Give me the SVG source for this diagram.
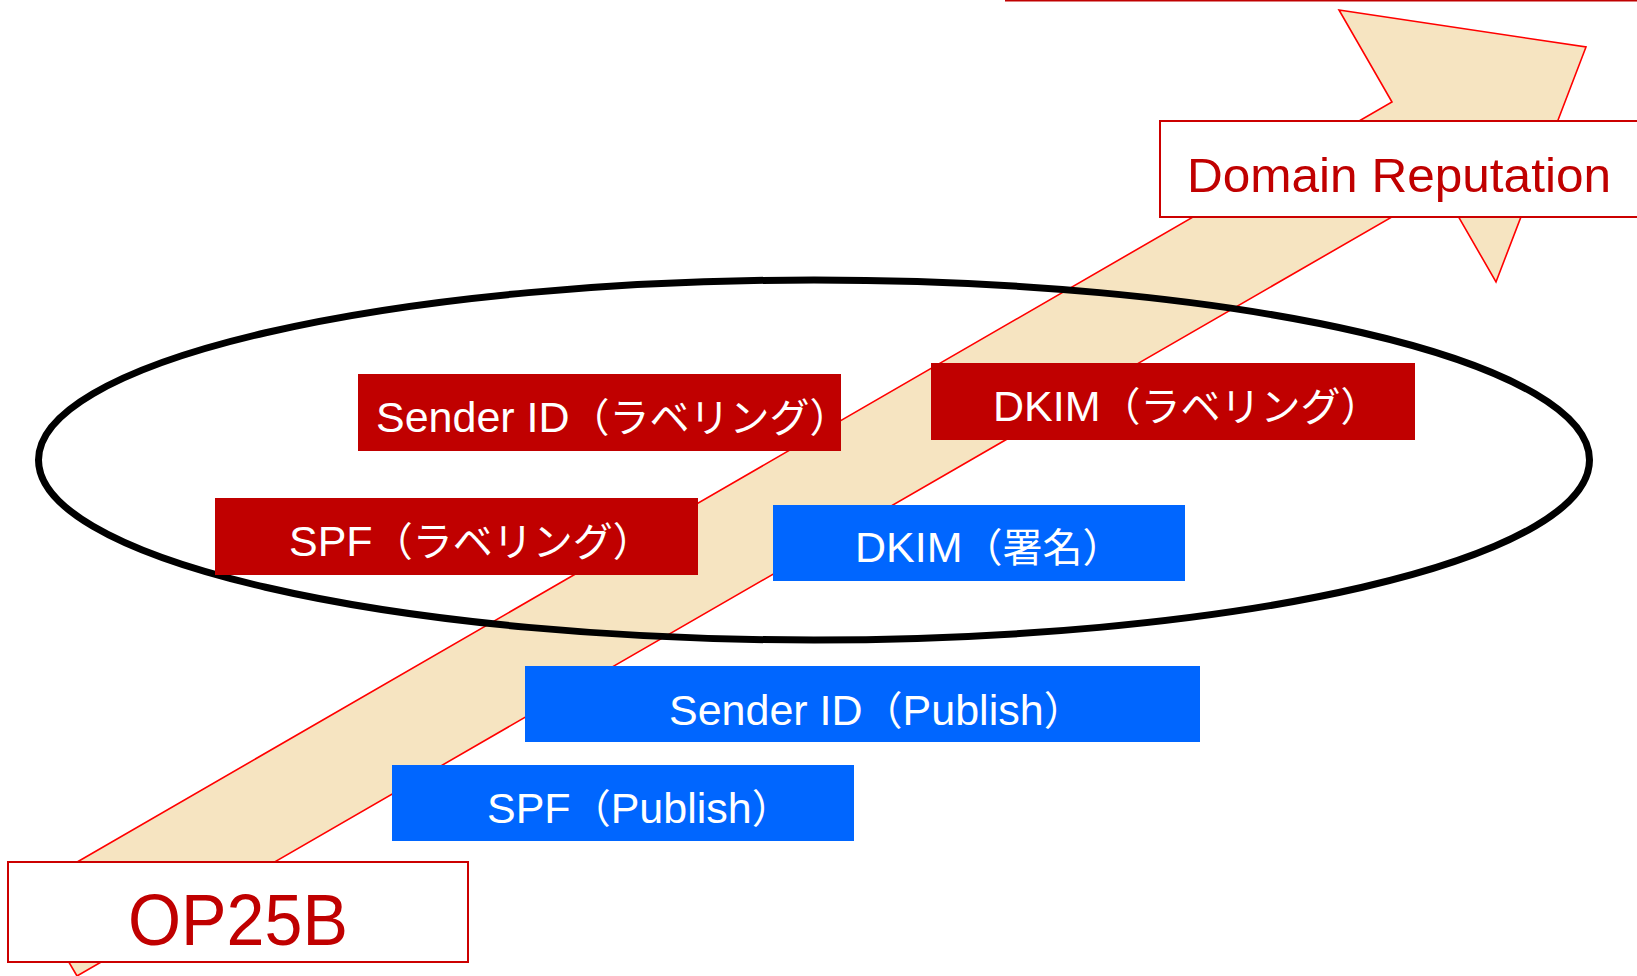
<svg xmlns="http://www.w3.org/2000/svg" width="1637" height="976" viewBox="0 0 1637 976">
  <style>
    .lat { font-family: "Liberation Sans", Arial, "Noto Sans CJK JP", sans-serif; font-size: 43px; fill: #ffffff; }
    .cjk { font-family: "Noto Sans CJK JP", "Noto Sans CJK SC", sans-serif; font-size: 40px; }
    .red { fill: #C00000; }
    .blue { fill: #0066FF; }
    .frame { fill: #ffffff; stroke: #CC0000; stroke-width: 2; }
    .title { font-family: "Liberation Sans", Arial, sans-serif; fill: #C00000; }
  </style>

  <!-- edge of a frame above the visible area -->
  <line x1="1005" y1="0.6" x2="1637" y2="0.6" stroke="#C00000" stroke-width="1.6"/>

  <!-- rising block arrow from OP25B to Domain Reputation -->
  <g id="arrow">
    <polygon points="27,891 1392,102 1339,10 1586,47 1496,282 1442,188 77,976"
             fill="#F6E4C1" stroke="#FF0000" stroke-width="1.6" stroke-linejoin="miter"/>
  </g>

  <!-- grouping ellipse -->
  <g id="scope">
    <ellipse cx="814" cy="460" rx="775.5" ry="180" fill="none" stroke="#000000" stroke-width="7"/>
  </g>

  <g id="sender-id-labeling">
    <rect class="red" x="358" y="374" width="483" height="77"/>
    <text class="lat" x="376" y="432">Sender ID<tspan class="cjk">（ラベリング）</tspan></text>
  </g>

  <g id="dkim-labeling">
    <rect class="red" x="931" y="363" width="484" height="77"/>
    <text class="lat" x="993" y="421">DKIM<tspan class="cjk">（ラベリング）</tspan></text>
  </g>

  <g id="spf-labeling">
    <rect class="red" x="215" y="498" width="483" height="77"/>
    <text class="lat" x="289" y="556">SPF<tspan class="cjk">（ラベリング）</tspan></text>
  </g>

  <g id="dkim-signature">
    <rect class="blue" x="773" y="505" width="412" height="76"/>
    <text class="lat" x="855" y="562">DKIM<tspan class="cjk">（署名）</tspan></text>
  </g>

  <g id="sender-id-publish">
    <rect class="blue" x="525" y="666" width="675" height="76"/>
    <text class="lat" x="669" y="725">Sender ID<tspan class="cjk">（</tspan>Publish<tspan class="cjk">）</tspan></text>
  </g>

  <g id="spf-publish">
    <rect class="blue" x="392" y="765" width="462" height="76"/>
    <text class="lat" x="487" y="823">SPF<tspan class="cjk">（</tspan>Publish<tspan class="cjk">）</tspan></text>
  </g>

  <g id="domain-reputation">
    <rect class="frame" x="1160" y="121" width="490" height="96"/>
    <text class="title" x="1187" y="192" font-size="49" textLength="424" lengthAdjust="spacingAndGlyphs">Domain Reputation</text>
  </g>

  <g id="op25b">
    <rect class="frame" x="8" y="862" width="460" height="100"/>
    <text class="title" x="238" y="945" font-size="72" text-anchor="middle" textLength="220" lengthAdjust="spacingAndGlyphs">OP25B</text>
  </g>
</svg>
